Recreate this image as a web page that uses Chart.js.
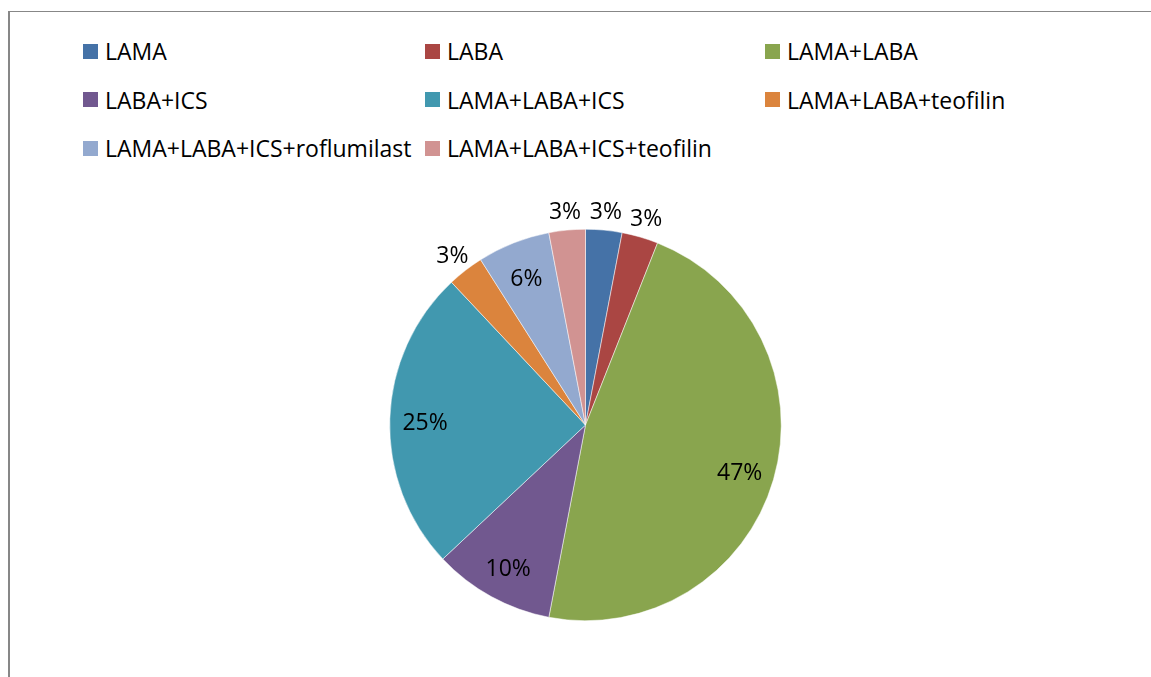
<!DOCTYPE html>
<html>
<head>
<meta charset="utf-8">
<script src="https://cdn.jsdelivr.net/npm/chart.js@4.4.1/dist/chart.umd.min.js"></script>
<style>
  html, body { margin: 0; padding: 0; background: #fff; }
  #wrap { position: relative; width: 1151px; height: 677px; overflow: hidden; }
  #frame { position: absolute; left: 8px; top: 11px; right: -10px; bottom: -10px;
           border-left: 2px solid #878787; border-top: 1px solid #878787; }
  #legend { position: absolute; left: 83px; top: 27px; display: grid;
            grid-template-columns: 342px 340px 341px; row-gap: 0; }
  .item { display: flex; align-items: center; height: 48.5px; white-space: nowrap;
          font-family: "Open Sans", sans-serif; font-size: 23px; color: #000; }
  .box { width: 15px; height: 15px; margin-right: 7px; flex: none; }
  canvas { position: absolute; left: 0; top: 0; }
</style>
</head>
<body>
<div id="wrap">
  <div id="frame"></div>
  <div id="legend"></div>
  <canvas id="pieChart" width="1151" height="677"></canvas>
</div>
<script>
const labels = [
  "LAMA",
  "LABA",
  "LAMA+LABA",
  "LABA+ICS",
  "LAMA+LABA+ICS",
  "LAMA+LABA+teofilin",
  "LAMA+LABA+ICS+roflumilast",
  "LAMA+LABA+ICS+teofilin",
];
const values = [3, 3, 47, 10, 25, 3, 6, 3];
const colors = [
  "#4572A7",
  "#AA4643",
  "#89A54E",
  "#71588F",
  "#4198AF",
  "#DB843D",
  "#93A9CF",
  "#D19392",
];

// legend in a 3 column grid, like the original
const legendEl = document.getElementById("legend");
labels.forEach((lab, i) => {
  const item = document.createElement("div");
  item.className = "item";
  const box = document.createElement("span");
  box.className = "box";
  box.style.background = colors[i];
  const txt = document.createElement("span");
  txt.textContent = lab;
  item.appendChild(box);
  item.appendChild(txt);
  legendEl.appendChild(item);
});

// percent labels: small slices outside, others inside
const pctLabels = {
  id: "pctLabels",
  afterDatasetsDraw(chart) {
    const ctx = chart.ctx;
    const meta = chart.getDatasetMeta(0);
    ctx.save();
    ctx.font = '23px "Open Sans", sans-serif';
    ctx.fillStyle = "#000";
    ctx.textAlign = "center";
    ctx.textBaseline = "alphabetic";
    meta.data.forEach((arc, i) => {
      const p = arc.getProps(["x", "y", "startAngle", "endAngle", "outerRadius"], true);
      const mid = (p.startAngle + p.endAngle) / 2;
      const r = values[i] <= 3 ? p.outerRadius * 1.11 : p.outerRadius * 0.82;
      // baseline sits ~8px below the visual centre of the digits
      ctx.fillText(values[i] + "%", p.x + Math.cos(mid) * r, p.y + Math.sin(mid) * r + 10);
    });
    ctx.restore();
  },
};

const ctx = document.getElementById("pieChart").getContext("2d");
const myChart = new Chart(ctx, {
  type: "pie",
  data: {
    labels: labels,
    datasets: [
      {
        data: values,
        backgroundColor: colors,
        borderColor: "#ffffff",
        borderWidth: 0.5,
      },
    ],
  },
  options: {
    responsive: false,
    animation: false,
    layout: { padding: { top: 229, bottom: 56, left: 20, right: 0 } },
    plugins: {
      legend: { display: false },
      tooltip: { enabled: false },
    },
  },
  plugins: [pctLabels],
});
</script>
</body>
</html>
